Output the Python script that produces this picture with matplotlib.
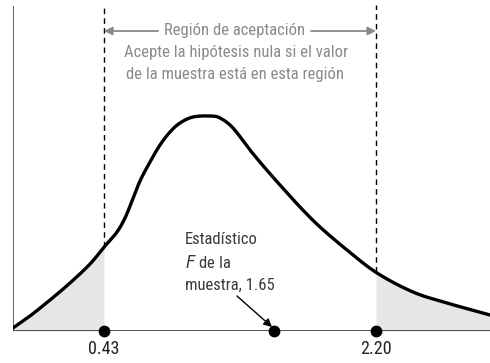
import numpy as np
import matplotlib.pyplot as plt
from matplotlib import font_manager

# ------------------------------------------------------------
# fonts
# ------------------------------------------------------------
names = {f.name for f in font_manager.fontManager.ttflist}
for cand in ['Liberation Sans Narrow', 'Roboto Condensed', 'Roboto', 'Liberation Sans']:
    if cand in names:
        fam = cand
        break
plt.rcParams['font.family'] = [fam, 'DejaVu Sans']

# ------------------------------------------------------------
# data (schematic units)
# ------------------------------------------------------------
curve_x = [0, 17, 37, 57, 77, 92, 104, 112, 119, 127, 137, 147, 157, 167,
           180, 197, 207, 220, 237, 252, 267, 287, 307, 334, 364, 400, 434, 477]
curve_y = [3, 15, 31, 48, 67, 85, 99, 113, 130, 150, 169, 186, 199, 208,
           214, 215, 213, 203, 181, 163, 146, 124, 104, 81, 58, 39, 28, 16]

crit_pos = [91, 363]          # schematic positions of the critical values
crit_labels = ['0.43', '2.20']
sample_pos = 261              # schematic position of sample F = 1.65

x_max, y_max = 477, 326


def catmull_rom(xs, ys, n=20):
    p = np.column_stack([xs, ys]).astype(float)
    p = np.vstack([2 * p[0] - p[1], p, 2 * p[-1] - p[-2]])
    out = []
    t = np.linspace(0, 1, n, endpoint=False)[:, None]
    for i in range(1, len(p) - 2):
        p0, p1, p2, p3 = p[i - 1], p[i], p[i + 1], p[i + 2]
        seg = 0.5 * ((2 * p1) + (-p0 + p2) * t
                     + (2 * p0 - 5 * p1 + 4 * p2 - p3) * t ** 2
                     + (-p0 + 3 * p1 - 3 * p2 + p3) * t ** 3)
        out.append(seg)
    out.append(p[-2][None, :])
    out = np.vstack(out)
    return out[:, 0], out[:, 1]


# ------------------------------------------------------------
# figure
# ------------------------------------------------------------
fig = plt.figure(figsize=(4.9, 3.63), dpi=100)
ax = fig.add_axes([13 / 490, 32 / 363, 477 / 490, 326 / 363])
ax.set_xlim(0, x_max)
ax.set_ylim(0, y_max)
ax.axis('off')

cx, cy = catmull_rom(curve_x, curve_y)

# shaded tails
lo = cx <= crit_pos[0]
xl = np.append(cx[lo], crit_pos[0])
yl = np.append(cy[lo], np.interp(crit_pos[0], cx, cy))
ax.fill_between(xl, 0, yl, color='#e6e6e8', lw=0, zorder=1)
hi = cx >= crit_pos[1]
xh = np.insert(cx[hi], 0, crit_pos[1])
yh = np.insert(cy[hi], 0, np.interp(crit_pos[1], cx, cy))
ax.fill_between(xh, 0, yh, color='#e6e6e8', lw=0, zorder=1)

# curve
ax.plot(cx, cy, color='black', lw=2.4, solid_capstyle='round', zorder=3)

# axes lines
ax.plot([0, 0], [0, y_max - 2], color='#555555', lw=1.3, zorder=2)
ax.plot([0, x_max], [0, 0], color='#333333', lw=1.2, zorder=2)

# dashed critical lines
for p in crit_pos:
    ax.plot([p, p], [np.interp(p, cx, cy), y_max], color='black', lw=1.0,
            ls=(0, (4, 3)), zorder=2)

# dots on axis
ax.plot(crit_pos + [sample_pos], [0, 0, 0], 'o', color='black', ms=7.5,
        clip_on=False, zorder=4)

# tick labels
fs = 12
for p, lab in zip(crit_pos, crit_labels):
    ax.text(p, -9, lab, ha='center', va='top', fontsize=13, color='#222222')

# acceptance region annotation
gray = '#8a8a8a'
ax.text(222, 300, 'Región de aceptación', ha='center', va='center',
        fontsize=fs, color=gray)
ax.annotate('', xy=(crit_pos[0], 300), xytext=(145, 300),
            arrowprops=dict(arrowstyle='-|>', color=gray, lw=1.3,
                            mutation_scale=12, shrinkA=0, shrinkB=0))
ax.annotate('', xy=(crit_pos[1], 300), xytext=(298, 300),
            arrowprops=dict(arrowstyle='-|>', color=gray, lw=1.3,
                            mutation_scale=12, shrinkA=0, shrinkB=0))
ax.text(223, 278, 'Acepte la hipótesis nula si el valor', ha='center',
        va='center', fontsize=fs, color=gray)
ax.text(222, 256, 'de la muestra está en esta región', ha='center',
        va='center', fontsize=fs, color=gray)

# sample statistic annotation
dark = '#3a3a3a'
ax.text(172, 91, 'Estadístico', ha='left', va='center', fontsize=fs, color=dark)
ax.text(172, 68, r'$\it{F}$ de la', ha='left', va='center', fontsize=fs, color=dark)
ax.text(172, 46, 'muestra, 1.65', ha='left', va='center', fontsize=fs, color=dark)
ax.annotate('', xy=(sample_pos - 2, 4), xytext=(224, 35),
            arrowprops=dict(arrowstyle='-|>', color='black', lw=1.0,
                            mutation_scale=12, shrinkA=0, shrinkB=0))

fig.savefig('out.png', dpi=100, facecolor='white')
